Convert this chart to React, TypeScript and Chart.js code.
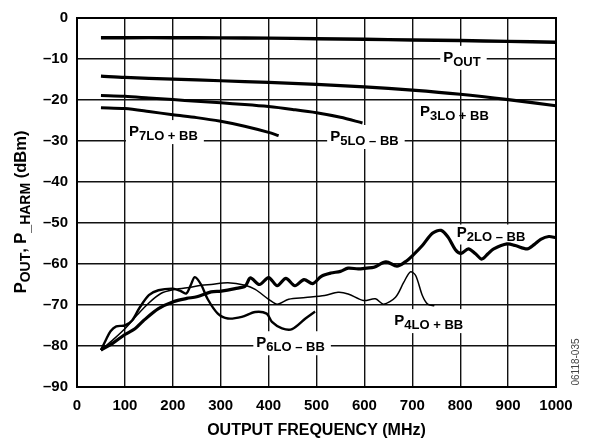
import React, { useEffect, useRef } from 'react';
import { Chart, registerables } from 'chart.js';

Chart.register(...registerables);

const FONT = '"Liberation Sans", Arial, Helvetica, sans-serif';

// ---- tick values / labels ----
const xTickValues = [0, 100, 200, 300, 400, 500, 600, 700, 800, 900, 1000];
const xTickLabels = ['0', '100', '200', '300', '400', '500', '600', '700', '800', '900', '1000'];
const yTickValues = [0, -10, -20, -30, -40, -50, -60, -70, -80, -90];
const yTickLabels = ['0', '–10', '–20', '–30', '–40', '–50', '–60', '–70', '–80', '–90'];

// ---- series ----
const poutFreq = [50, 100, 200, 300, 400, 500, 600, 700, 800, 900, 1000];
const poutDbm = [-4.8, -4.8, -4.8, -4.85, -4.9, -5.05, -5.2, -5.35, -5.5, -5.7, -5.9];

const p3Freq = [50, 100, 200, 300, 400, 500, 600, 700, 800, 900, 1000];
const p3Dbm = [-14.2, -14.5, -14.9, -15.3, -15.7, -16.2, -16.8, -17.6, -18.6, -19.9, -21.4];

const p5Freq = [50, 100, 150, 200, 250, 300, 350, 400, 450, 500, 550, 596];
const p5Dbm = [-18.9, -19.1, -19.5, -19.9, -20.3, -20.7, -21.1, -21.6, -22.3, -23.1, -24.2, -25.6];

const p7Freq = [50, 100, 150, 200, 250, 300, 350, 400, 421];
const p7Dbm = [-21.9, -22.1, -22.8, -23.6, -24.3, -25.2, -26.4, -27.9, -28.7];

const p2Freq = [50, 75, 100, 121, 138, 170, 201, 229, 250, 280, 301, 330, 351, 362, 381, 400, 418, 436, 455, 474, 492, 510, 530, 550, 566, 587, 605, 620, 645, 668, 685, 700, 721, 742, 760, 775, 790, 802, 817, 832, 845, 858, 870, 898, 915, 940, 955, 968, 985, 1000];
const p2Dbm = [-81, -79.3, -77.2, -75.8, -73.9, -70.9, -69.2, -68.4, -68.0, -66.8, -66.6, -66.0, -65.4, -63.4, -65.0, -63.3, -65.3, -63.5, -65.3, -63.8, -64.8, -63.0, -62.2, -61.8, -61.0, -61.2, -61.0, -60.8, -59.5, -60.5, -59.5, -58.0, -55.5, -52.5, -51.8, -53.5, -56.5, -57.4, -56.3, -57.5, -58.8, -57.5, -56.3, -55.1, -55.5, -56.3, -55.2, -54.0, -53.3, -53.6];

const p4Freq = [50, 75, 100, 125, 150, 175, 200, 230, 260, 280, 315, 351, 372, 400, 418, 442, 477, 517, 545, 566, 598, 623, 640, 665, 682, 696, 707, 721, 732, 746];
const p4Dbm = [-81, -78.5, -75.8, -72.5, -69.5, -67.2, -66.3, -65.8, -65.2, -65.0, -64.6, -65.2, -66.2, -68.6, -69.8, -68.6, -68.2, -67.7, -66.9, -67.3, -68.9, -68.5, -69.8, -68.1, -64.5, -61.9, -62.8, -67.7, -69.8, -70.2];

const p6Freq = [50, 60, 70, 82, 100, 115, 130, 150, 170, 200, 215, 228, 238, 246, 259, 273, 294, 315, 344, 372, 396, 407, 428, 449, 477, 497];
const p6Dbm = [-81, -78.6, -76.4, -75.2, -75.0, -73.8, -70.8, -67.6, -66.4, -66.0, -66.5, -67.2, -65.0, -63.2, -65.0, -68.6, -72.1, -73.3, -72.9, -71.7, -72.1, -74.1, -75.7, -75.9, -73.3, -71.6];

// ---- curve annotations (subscript text) ----
const labelSubs = ['OUT', '3LO + BB', '7LO + BB', '5LO – BB', '2LO – BB', '4LO + BB', '6LO – BB'];
const labelX = [764.6, 716, 108.5, 528.5, 793, 662.5, 374.4];
const labelY = [-10.7, -24.0, -28.8, -30.0, -53.3, -74.9, -80.3];
const labelBox = [16, 0, 16, 16, 12, 16, 16];

const toPts = (f: number[], v: number[]) => f.map((x, i) => ({ x, y: v[i] }));

const drawSubText = (
  ctx: CanvasRenderingContext2D,
  parts: { t: string; sub: boolean }[],
  x: number,
  y: number,
  big: number,
  small: number,
  drop: number,
  measureOnly = false
) => {
  let cx = x;
  for (const p of parts) {
    ctx.font = `bold ${p.sub ? small : big}px ${FONT}`;
    if (!measureOnly) ctx.fillText(p.t, cx, y + (p.sub ? drop : 0));
    cx += ctx.measureText(p.t).width;
  }
  return cx - x;
};

const annotationPlugin = {
  id: 'annotations',
  beforeDatasetsDraw(chart: any) {
    const { ctx, chartArea, scales } = chart;
    const xs = scales.x;
    const ys = scales.y;
    ctx.save();
    ctx.textAlign = 'left';
    ctx.textBaseline = 'alphabetic';
    for (let i = 0; i < labelSubs.length; i++) {
      const px = xs.getPixelForValue(labelX[i]);
      const py = ys.getPixelForValue(labelY[i]);
      const parts = [
        { t: 'P', sub: false },
        { t: labelSubs[i], sub: true },
      ];
      const w = drawSubText(ctx, parts, px, py, 15, 13, 4, true);
      if (labelBox[i] > 0) {
        ctx.fillStyle = '#ffffff';
        ctx.fillRect(px - 3, py - labelBox[i], w + 9, labelBox[i] + 8);
      }
      ctx.fillStyle = '#000000';
      drawSubText(ctx, parts, px, py, 15, 13, 4);
    }
    // frame
    ctx.strokeStyle = '#000000';
    ctx.lineWidth = 2;
    ctx.strokeRect(chartArea.left, chartArea.top, chartArea.right - chartArea.left, chartArea.bottom - chartArea.top);
    ctx.restore();
  },
  afterDraw(chart: any) {
    const { ctx, chartArea } = chart;
    ctx.save();
    ctx.fillStyle = '#000000';
    // x title
    ctx.font = `bold 16px ${FONT}`;
    ctx.textAlign = 'center';
    ctx.textBaseline = 'alphabetic';
    ctx.fillText('OUTPUT FREQUENCY (MHz)', (chartArea.left + chartArea.right) / 2, 435);
    // y title
    const yParts = [
      { t: 'P', sub: false },
      { t: 'OUT', sub: true },
      { t: ', P', sub: false },
      { t: '_HARM', sub: true },
      { t: ' (dBm)', sub: false },
    ];
    ctx.textAlign = 'left';
    const w = drawSubText(ctx, yParts, 0, 0, 16.5, 14, 4, true);
    ctx.translate(26, 212);
    ctx.rotate(-Math.PI / 2);
    drawSubText(ctx, yParts, -w / 2, 0, 16.5, 14, 4);
    ctx.restore();
    // figure code
    ctx.save();
    ctx.fillStyle = '#444444';
    ctx.font = `10px ${FONT}`;
    ctx.textAlign = 'center';
    ctx.textBaseline = 'middle';
    ctx.translate(576, 362);
    ctx.rotate(-Math.PI / 2);
    ctx.fillText('06118-035', 0, 0);
    ctx.restore();
  },
};

const line = (label: string, f: number[], v: number[], width: number) => ({
  label,
  data: toPts(f, v),
  borderColor: '#000000',
  backgroundColor: '#000000',
  borderWidth: width,
  pointRadius: 0,
  tension: 0.3,
  fill: false,
});

export default function App() {
  const ref = useRef<HTMLCanvasElement | null>(null);
  useEffect(() => {
    if (!ref.current) return;
    const chart = new Chart(ref.current, {
      type: 'line',
      data: {
        datasets: [
          line('POUT', poutFreq, poutDbm, 3.4),
          line('P3LO + BB', p3Freq, p3Dbm, 3.2),
          line('P5LO – BB', p5Freq, p5Dbm, 3),
          line('P7LO + BB', p7Freq, p7Dbm, 3),
          line('P2LO – BB', p2Freq, p2Dbm, 3.2),
          line('P4LO + BB', p4Freq, p4Dbm, 1.5),
          line('P6LO – BB', p6Freq, p6Dbm, 2.4),
        ],
      },
      options: {
        responsive: false,
        animation: false,
        devicePixelRatio: 1,
        layout: { padding: { left: 0, right: 33, top: 9, bottom: 0 } },
        plugins: { legend: { display: false }, tooltip: { enabled: false }, title: { display: false } },
        scales: {
          x: {
            type: 'linear',
            min: 0,
            max: 1000,
            afterFit: (s: any) => {
              s.height = 55;
            },
            afterBuildTicks: (s: any) => {
              s.ticks = xTickValues.map((value) => ({ value }));
            },
            ticks: {
              autoSkip: false,
              maxRotation: 0,
              padding: 10,
              color: '#000000',
              font: { family: FONT, size: 15, weight: 'bold' },
              callback: (v: any) => xTickLabels[xTickValues.indexOf(Number(v))] ?? '',
            },
            grid: { color: '#111111', lineWidth: 1.4, drawTicks: false },
            border: { display: false },
          },
          y: {
            type: 'linear',
            min: -90,
            max: 0,
            afterFit: (s: any) => {
              s.width = 77;
            },
            afterBuildTicks: (s: any) => {
              s.ticks = yTickValues.map((value) => ({ value }));
            },
            ticks: {
              autoSkip: false,
              padding: 9,
              color: '#000000',
              font: { family: FONT, size: 15, weight: 'bold' },
              callback: (v: any) => yTickLabels[yTickValues.indexOf(Number(v))] ?? '',
            },
            grid: { color: '#111111', lineWidth: 1.4, drawTicks: false },
            border: { display: false },
          },
        },
      },
      plugins: [annotationPlugin],
    } as any);
    return () => chart.destroy();
  }, []);
  return (
    <div style={{ position: 'absolute', left: 0, top: 0, width: 589, height: 442, background: '#ffffff' }}>
      <canvas ref={ref} width={589} height={442} style={{ display: 'block' }} />
    </div>
  );
}
